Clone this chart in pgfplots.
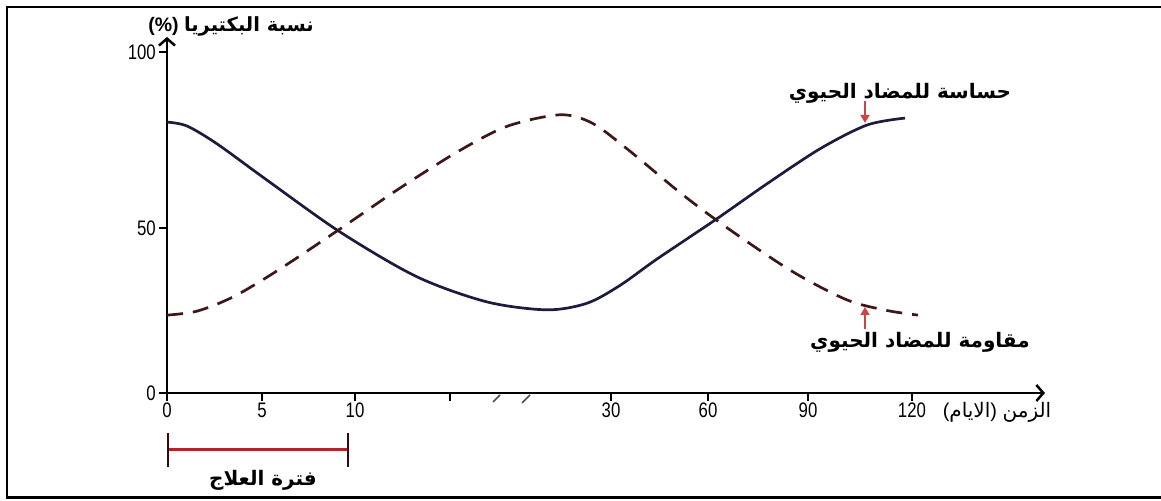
\documentclass[border=0pt]{standalone}
\usepackage{fontspec}
\setmainfont{Liberation Sans}
\newfontfamily\tickfont[FakeStretch=0.8]{Liberation Sans}
\newfontfamily\arabicfont[Script=Arabic]{DejaVu Sans}
\TeXXeTstate=1
\usepackage{pgfplots}
\pgfplotsset{compat=1.18}
\usetikzlibrary{arrows.meta}

\definecolor{sens}{RGB}{28,28,62}
\definecolor{resi}{RGB}{62,24,24}
\definecolor{pointer}{RGB}{200,70,70}
\definecolor{bracket}{RGB}{180,35,40}

\newcommand{\ar}[1]{{\arabicfont\beginR #1\endR}}

\begin{document}
\begin{tikzpicture}[x=1bp,y=1bp]
\useasboundingbox (0,0) rectangle (1161,501);
\clip (0,0) rectangle (1161,501);
\draw[line width=2.5bp] (7,3.5) rectangle (1200,494);

\begin{axis}[
  at={(167bp,108bp)}, anchor=south west,
  x=1bp, y=3.3bp,
  xmin=0, xmax=878, ymin=0, ymax=107.9,
  axis lines=left,
  axis line style={line width=2.5bp,
    -{Straight Barb[length=7bp,width=16bp,line width=2.5bp]}},
  tick align=outside,
  major tick length=8bp,
  every tick/.style={line width=2bp, black},
  xtick={0,95,188,283,444,541,641,745},
  xticklabels={0,5,10,,30,60,90,120},
  ytick={0,50,103.3},
  yticklabels={0,50,100},
  tick label style={font=\tickfont\fontsize{21bp}{23bp}\selectfont},
  xticklabel style={inner sep=1.5bp},
  yticklabel style={inner sep=3bp},
  clip=false,
]
% sensitive bacteria (solid)
\addplot[sens, line width=2.7bp, smooth] coordinates {
(0,82.1) (20,80.9) (50,75.5) (100,64.5) (173,48.8) (250,35.2) (320,27.6)
(380,25.2) (420,27.2) (453,32.6) (490,40.6) (548,52.4) (600,63.4)
(653,74.0) (700,81.2) (738,83.3)
};
% resistant bacteria (dashed)
\addplot[resi, line width=2.7bp, smooth, dash pattern=on 16bp off 10bp] coordinates {
(0,23.6) (30,24.8) (66,29.1) (110,37.0) (173,49.7) (230,61.5) (290,73.0)
(340,80.8) (393,84.3) (425,81.8) (460,74.0) (516,60.0) (566,48.8)
(626,36.7) (680,28.2) (720,25.0) (751,23.6)
};
\end{axis}

% axis break marks
\draw[gray!60!black, line width=1.5bp] (493,99) -- (500,106);
\draw[gray!60!black, line width=1.5bp] (522,98) -- (530,106);

% axis titles
\node[font=\fontsize{19.5bp}{22bp}\selectfont\bfseries] at (231,475)
  {(\%) \ar{نسبة البكتيريا}};
\node[font=\fontsize{20bp}{23bp}\selectfont] at (997,89)
  {(\ar{الايام}) \ar{الزمن}};

% curve labels
\node[font=\fontsize{20bp}{23bp}\selectfont\bfseries] at (900,408)
  {\ar{حساسة للمضاد الحيوي}};
\draw[pointer, line width=1.6bp, -{Triangle[length=8bp,width=9bp]}] (865,400) -- (865,378);
\node[font=\fontsize{20bp}{23bp}\selectfont\bfseries] at (920,159)
  {\ar{مقاومة للمضاد الحيوي}};
\draw[pointer, line width=1.6bp, -{Triangle[length=8bp,width=9bp]}] (865,172) -- (865,194);

% treatment period
\draw[bracket, line width=3bp] (168,51) -- (348,51);
\draw[black!70!bracket, line width=2.5bp] (168,34) -- (168,68);
\draw[black!70!bracket, line width=2.5bp] (348,34) -- (348,68);
\node[font=\fontsize{20bp}{23bp}\selectfont\bfseries] at (263,21)
  {\ar{فترة العلاج}};
\end{tikzpicture}
\end{document}
